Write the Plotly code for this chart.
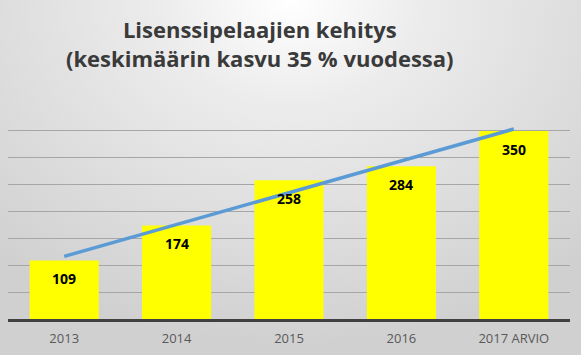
import numpy as np
import plotly.graph_objects as go
import urllib.parse

categories = ["2013", "2014", "2015", "2016", "2017 ARVIO"]
values = [109, 174, 258, 284, 350]
title_lines = ["Lisenssipelaajien kehitys", "(keskimäärin kasvu 35 % vuodessa)"]

W, H = 581, 355
ml, mr, mt, mb = 8, 11, 104, 36
pw, ph = W - ml - mr, H - mt - mb

# linear trend line (as in the original spreadsheet chart)
xi = np.arange(len(values))
slope, intercept = np.polyfit(xi, values, 1)
trend = slope * xi + intercept

svg = (
    '<svg xmlns="http://www.w3.org/2000/svg" width="581" height="355" preserveAspectRatio="none">'
    '<defs><radialGradient id="g" cx="50%" cy="0%" r="75%" fx="50%" fy="0%" '
    'gradientTransform="translate(0.5 0) scale(1 1.3) translate(-0.5 0)">'
    '<stop offset="0" stop-color="#ffffff"/>'
    '<stop offset="0.3" stop-color="#ececec"/>'
    '<stop offset="1" stop-color="#d0d0d0"/>'
    '</radialGradient></defs>'
    '<rect width="581" height="355" fill="url(#g)"/></svg>'
)
bg_src = "data:image/svg+xml;charset=utf-8," + urllib.parse.quote(svg)

fig = go.Figure()
fig.add_trace(go.Bar(
    x=categories, y=values,
    marker=dict(color="#ffff00", line=dict(width=0)),
    hoverinfo="skip",
))
fig.add_trace(go.Scatter(
    x=categories, y=trend, mode="lines",
    line=dict(color="#5b9bd5", width=3.5),
    hoverinfo="skip",
))

annotations = [dict(
    text="<b>" + title_lines[0] + "</b><br><b>" + title_lines[1] + "</b>",
    xref="paper", yref="paper", x=(260 - ml) / pw, y=1 + (mt - 12) / ph,
    xanchor="center", yanchor="top", showarrow=False,
    font=dict(family="Open Sans", size=22, color="#3a3a3a"),
    align="center",
)]
for i, v in enumerate(values):
    annotations.append(dict(
        x=i, y=v, xref="x", yref="y", text="<b>%d</b>" % v,
        showarrow=False, yanchor="top", yshift=-7,
        font=dict(family="Open Sans", size=14, color="#000000"),
    ))

fig.update_layout(
    width=W, height=H,
    margin=dict(l=ml, r=mr, t=mt, b=mb),
    paper_bgcolor="#d8d8d8",
    plot_bgcolor="rgba(0,0,0,0)",
    showlegend=False,
    bargap=0.385,
    images=[dict(
        source=bg_src, xref="paper", yref="paper",
        x=-ml / pw, y=1 + mt / ph, sizex=W / pw, sizey=H / ph,
        xanchor="left", yanchor="top", sizing="stretch", layer="below",
    )],
    annotations=annotations,
    xaxis=dict(
        type="category", categoryorder="array", categoryarray=categories,
        showgrid=False, showline=True, linecolor="#404040", linewidth=3,
        ticks="", tickfont=dict(family="Open Sans", size=13, color="#595959"),
        ticklabelstandoff=5,
        fixedrange=True,
    ),
    yaxis=dict(
        range=[0, 400], dtick=50, showgrid=True, gridcolor="#a6a6a6", gridwidth=1,
        showticklabels=False, zeroline=False, showline=False, ticks="",
        fixedrange=True,
    ),
)

fig.write_html("out.html", config={"displayModeBar": False})
